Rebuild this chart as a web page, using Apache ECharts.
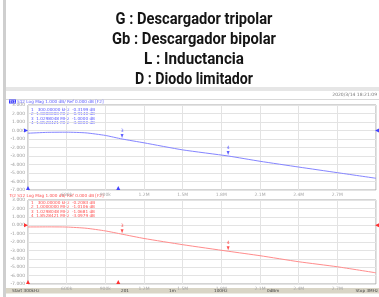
<!DOCTYPE html>
<html lang="es">
<head>
<meta charset="UTF-8" />
<title>S12 Log Mag</title>
<script src="https://cdn.jsdelivr.net/npm/echarts@6/dist/echarts.min.js"></script>
<style>
  html, body, #main { margin: 0; padding: 0; width: 379px; height: 297px; background: #fff; overflow: hidden; }
</style>
</head>
<body>
<div id="main"></div>
<script>
  // frequency in kHz, traces in dB
  const freqs = [300, 450, 600, 750, 900, 1030, 1200, 1500, 1853, 2100, 2400, 2700, 3000];
  const tr1 = [-0.32, -0.22, -0.2, -0.28, -0.58, -1.0, -1.45, -2.28, -3.0, -3.62, -4.3, -4.96, -5.62];
  const tr2 = [-0.21, -0.2, -0.22, -0.36, -0.68, -1.07, -1.58, -2.32, -3.1, -3.63, -4.35, -4.95, -5.67];
  const freqTicks = ['', '600k', '900k', '1.2M', '1.5M', '1.8M', '2.1M', '2.4M', '2.7M', ''];
  const titleLines = ['G : Descargador tripolar', 'Gb : Descargador bipolar', 'L : Inductancia', 'D : Diodo limitador'];
  const titleWidths = [157, 164, 100, 118];
  const mkRows1 = ['1   300.00000 kHz  -0.3199 dB', '2  1.0000000 MHz  -0.9140 dB', '3  1.0298048 MHz  -1.0000 dB', '4  1.8528421 MHz  -3.0000 dB'];
  const mkRows2 = ['1   300.00000 kHz  -0.2083 dB', '2  1.0000000 MHz  -1.0106 dB', '3  1.0298048 MHz  -1.0681 dB', '4  1.8528421 MHz  -3.0979 dB'];
  const markers = [[1029.8, 3], [1852.8, 4]];

  const BLUE = '#8585ff', RED = '#ff8c8c';
  const tiny = 'DejaVu Sans';

  const chart = echarts.init(document.getElementById('main'), null, { renderer: 'canvas' });

  const ctx = document.createElement('canvas').getContext('2d');
  ctx.font = 'bold 17px Roboto';
  const titleEls = titleLines.map((t, i) => ({
    type: 'text', x: 194, y: 20 + i * 20, scaleX: titleWidths[i] / ctx.measureText(t).width,
    style: { text: t, font: 'bold 17px Roboto', fill: '#151515', textAlign: 'center', textVerticalAlign: 'middle' }
  }));

  function tableEls(rows, top, color) {
    return rows.map((r, i) => ({
      type: 'text', x: 31, y: top + i * 4.4,
      style: { text: r, fontSize: 4.2, fontFamily: tiny, fill: color, textVerticalAlign: 'middle' }
    }));
  }

  function xAxis(gi) {
    return {
      type: 'value', gridIndex: gi, min: 300, max: 3000, interval: 300,
      axisLine: { show: false }, axisTick: { show: false },
      splitLine: { lineStyle: { color: '#e3e3e3', width: 1 } },
      axisLabel: { fontSize: 4.5, fontFamily: tiny, color: '#a8a8a8', margin: 2,
        formatter: v => freqTicks[Math.round((v - 300) / 300)] || '' }
    };
  }
  function yAxis(gi) {
    return {
      type: 'value', gridIndex: gi, min: -7, max: 3, interval: 1,
      axisLine: { show: false }, axisTick: { show: false },
      splitLine: { lineStyle: { color: '#e3e3e3', width: 1 } },
      axisLabel: { fontSize: 4.5, fontFamily: tiny, color: '#9a9a9a', margin: 3, formatter: v => v.toFixed(3) }
    };
  }
  function traceMarks(color) {
    const d = [
      { coord: [300, 0], symbol: 'triangle', symbolRotate: -90, symbolSize: 4, symbolOffset: [-2, 0] },
      { coord: [3000, 0], symbol: 'triangle', symbolRotate: 90, symbolSize: 4, symbolOffset: [1, 0] },
      { coord: [300, -7], symbol: 'triangle', symbolSize: 4, symbolOffset: [0, -2] },
      { coord: [1000, -7], symbol: 'triangle', symbolSize: 4, symbolOffset: [0, -2] }
    ];
    return { silent: true, label: { show: false }, itemStyle: { color }, data: d };
  }
  function pointMarks(ys, color) {
    return markers.map(([f, n]) => {
      const y = ys[freqs.indexOf(Math.round(f) === 1030 ? 1030 : 1853)];
      return {
        coord: [f, y], symbol: 'triangle', symbolRotate: 180, symbolSize: [3, 4], symbolOffset: [0, -3],
        itemStyle: { color }, label: { show: true, formatter: String(n), position: 'top', distance: 1, fontSize: 4.5, fontFamily: tiny, color }
      };
    });
  }

  const option = {
    animation: false,
    backgroundColor: '#fff',
    grid: [
      { left: 28, top: 105, width: 348, height: 85, show: true, backgroundColor: '#fff', borderColor: '#a9a9a9', borderWidth: 1 },
      { left: 28, top: 200, width: 348, height: 84, show: true, backgroundColor: '#fff', borderColor: '#a9a9a9', borderWidth: 1 }
    ],
    xAxis: [xAxis(0), xAxis(1)],
    yAxis: [yAxis(0), yAxis(1)],
    series: [
      { type: 'line', xAxisIndex: 0, yAxisIndex: 0, showSymbol: false, smooth: 0.2,
        lineStyle: { color: BLUE, width: 1 }, data: freqs.map((f, i) => [f, tr1[i]]),
        markPoint: Object.assign(traceMarks('#4040ff'), {}) },
      { type: 'line', xAxisIndex: 1, yAxisIndex: 1, showSymbol: false, smooth: 0.2,
        lineStyle: { color: RED, width: 1 }, data: freqs.map((f, i) => [f, tr2[i]]),
        markPoint: traceMarks('#ff3030') },
      { type: 'scatter', xAxisIndex: 0, yAxisIndex: 0, data: [], silent: true,
        markPoint: { silent: true, data: pointMarks(tr1, '#6060ff') } },
      { type: 'scatter', xAxisIndex: 1, yAxisIndex: 1, data: [], silent: true,
        markPoint: { silent: true, data: pointMarks(tr2, '#ff5050') } }
    ],
    graphic: [
      { type: 'rect', z: -10, shape: { x: 6, y: 88, width: 373, height: 209 }, style: { fill: '#fff' } },
      { type: 'rect', shape: { x: 3, y: 0, width: 3, height: 297 }, style: { fill: '#cfcfcf' } },
      { type: 'rect', shape: { x: 6, y: 87, width: 373, height: 4 }, style: { fill: '#e6e6e6' } },
      { type: 'rect', shape: { x: 6, y: 99, width: 373, height: 1 }, style: { fill: '#d8d8d8' } },
      { type: 'text', x: 377, y: 95, style: { text: '2020/3/14 18:21:09', fontSize: 4.5, fontFamily: tiny, fill: '#777', textAlign: 'right', textVerticalAlign: 'middle' } },
      { type: 'rect', shape: { x: 9, y: 99.5, width: 7, height: 4 }, style: { fill: '#3b3bff' } },
      { type: 'text', x: 9.5, y: 101.5, style: { text: 'Tr1', fontSize: 4.2, fontFamily: tiny, fill: '#fff', textVerticalAlign: 'middle' } },
      { type: 'text', x: 17, y: 101.5, style: { text: 'S12 Log Mag 1.000 dB/ Ref 0.000 dB [F2]', fontSize: 4.2, fontFamily: tiny, fill: '#5a5aff', textVerticalAlign: 'middle' } },
      { type: 'text', x: 9.5, y: 195.5, style: { text: 'Tr2 S12 Log Mag 1.000 dB/ Ref 0.000 dB [F2]', fontSize: 4.2, fontFamily: tiny, fill: '#ff5050', textVerticalAlign: 'middle' } },
      { type: 'rect', shape: { x: 6, y: 288, width: 373, height: 5.5 }, style: { fill: '#d9d5c6' } },
      { type: 'text', x: 12, y: 290.8, style: { text: 'Start 300kHz', fontSize: 4.2, fontFamily: tiny, fill: '#444', textVerticalAlign: 'middle' } },
      { type: 'text', x: 121, y: 290.8, style: { text: '201', fontSize: 4.2, fontFamily: tiny, fill: '#444', textVerticalAlign: 'middle' } },
      { type: 'text', x: 169, y: 290.8, style: { text: '1m', fontSize: 4.2, fontFamily: tiny, fill: '#444', textVerticalAlign: 'middle' } },
      { type: 'text', x: 214, y: 290.8, style: { text: '100Hz', fontSize: 4.2, fontFamily: tiny, fill: '#444', textVerticalAlign: 'middle' } },
      { type: 'text', x: 267, y: 290.8, style: { text: '0dBm', fontSize: 4.2, fontFamily: tiny, fill: '#444', textVerticalAlign: 'middle' } },
      { type: 'text', x: 378, y: 290.8, style: { text: 'Stop 3MHz', fontSize: 4.2, fontFamily: tiny, fill: '#444', textAlign: 'right', textVerticalAlign: 'middle' } }
    ].concat(titleEls, tableEls(mkRows1, 110, '#5a5aff'), tableEls(mkRows2, 203, '#ff5050'))
  };
  chart.setOption(option);
</script>
</body>
</html>
